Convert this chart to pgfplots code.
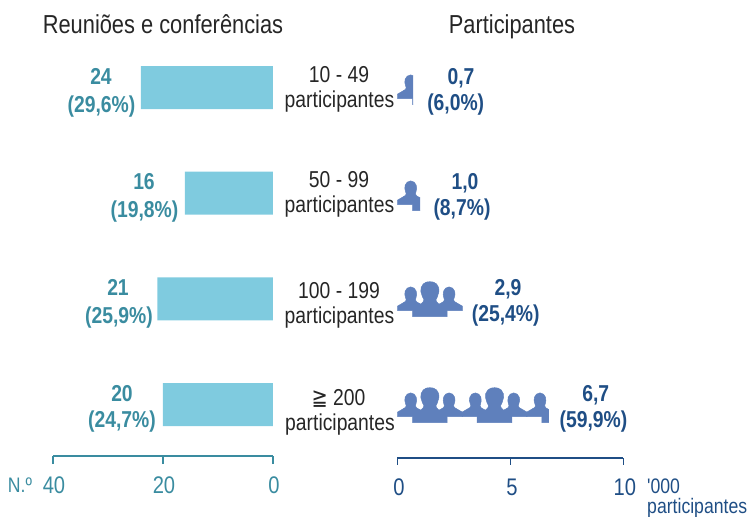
\documentclass[border=0pt]{standalone}
\usepackage{pgfplots}
\usepackage{pgfplotstable}
\usepackage{fontspec}
\pgfplotsset{compat=1.18}
\setmainfont[FakeStretch=0.84]{Liberation Sans}
\newfontfamily\symfont[FakeStretch=0.84]{DejaVu Sans}
\newfontfamily\plainfont[FakeStretch=0.84]{Liberation Sans}
\definecolor{barc}{HTML}{7FCBDF}
\definecolor{teal}{HTML}{3A8CA0}
\definecolor{navy}{HTML}{1F4E85}
\definecolor{icon}{HTML}{5F80BC}
\definecolor{ink}{HTML}{262626}
\pgfplotstableread{
x y
15.2 0
15.2 6
0 6
0 10.5
4.3 13
8 15.2
8.8 16.8
8.2 19
7.4 22
7.8 25.5
9.8 28.5
13.3 29.8
16.8 28.5
18.8 25.5
19.2 22
18.6 19
18 16.8
19 15
21.5 13.5
23.5 12.5
24.5 13.5
26 15.2
26.5 17
25 20
23.5 25
23.7 29
25.8 32.7
29 34.6
32.5 35
36 34.6
39.2 32.7
41.3 29
41.5 25
40 20
38.5 17
39 15.2
40.5 13.5
41.5 12.5
43.5 13.5
46 15
47 16.8
46.4 19
45.8 22
46.2 25.5
48.2 28.5
51.7 29.8
55.2 28.5
57.2 25.5
57.6 22
56.8 19
56.2 16.8
57 15.2
60.7 13
65 10.5
65 6
49.8 6
49.8 0
}\icontable
\newcommand{\iconplot}[1]{\addplot[fill=icon,draw=icon,line width=0.5pt] table[x expr=\thisrow{x}/22.6+#1,y=y] {\icontable} -- cycle;}
\pgfplotsset{rowaxis/.style={scale only axis,hide axis,clip=true,anchor=south west,
  xmin=0,ymin=0,ymax=36,height=36pt}}
\newcommand{\T}[5]{\node[anchor=base,inner sep=0pt,text=#4,font=\fontsize{#3}{#3}\selectfont] at (#1pt,{517pt-#2pt}) {#5};}
\newcommand{\V}[5]{\node[anchor=base,inner sep=0pt,text=#4,font=\fontsize{#3}{#3}\selectfont\bfseries] at (#1pt,{517pt-#2pt}) {#5};}
\begin{document}
\begin{tikzpicture}[x=1pt,y=1pt]
\useasboundingbox (0pt,0pt) rectangle (748pt,517pt);
% left axis
\begin{axis}[at={(53pt,61pt)},anchor=south west,scale only axis,width=220pt,height=421.3pt,
  x dir=reverse,xmin=0,xmax=40,ymin=-0.487,ymax=3.5,
  axis y line=none,axis x line=bottom,x axis line style={-,teal,line width=1.5pt},
  xtick={0,20,40},ytick=\empty,
  tick style={teal,line width=1.5pt},tick align=outside,major tick length=8pt,
  xticklabel style={text=teal,font=\fontsize{24}{24}\selectfont,yshift=-9pt,xshift=1pt},
  /pgf/number format/assume math mode=true,
  clip=false]
\addplot[xbar,bar width=43pt,bar shift=0pt,fill=barc,draw=none] coordinates {(24,3) (16,2) (21,1) (20,0)};
\end{axis}
% right axis
\begin{axis}[at={(397.4pt,59pt)},anchor=south west,scale only axis,width=226pt,height=20pt,
  xmin=0,xmax=10,ymin=0,ymax=1,
  axis y line=none,axis x line=bottom,x axis line style={-,navy,line width=1.5pt},
  xtick={0,5,10},ytick=\empty,
  tick style={navy,line width=1.5pt},tick align=outside,major tick length=7pt,
  xticklabel style={text=navy,font=\fontsize{24}{24}\selectfont,yshift=-10.5pt,xshift=1.5pt},
  /pgf/number format/assume math mode=true,
  clip=false]
\addplot[draw=none,fill=none,forget plot] coordinates {(0.7,0) (1.0,0) (2.9,0) (6.7,0)};
\end{axis}
% pictograms: each axis runs from 0 to the row's value and clips the icons there
\begin{axis}[rowaxis,at={(397.4pt,{517pt-104.7pt})},width=15.82pt,xmax=0.7]
\iconplot{0}
\end{axis}
\begin{axis}[rowaxis,at={(397.4pt,{517pt-210.7pt})},width=22.6pt,xmax=1.0]
\iconplot{0}
\end{axis}
\begin{axis}[rowaxis,at={(397.4pt,{517pt-316.7pt})},width=65.54pt,xmax=2.9]
\iconplot{0}
\end{axis}
\begin{axis}[rowaxis,at={(397.4pt,{517pt-422.7pt})},width=151.42pt,xmax=6.7]
\iconplot{0}
\iconplot{2.86}
\iconplot{5.72}
\end{axis}
% titles
\T{163}{34}{26}{ink}{Reuniões e conferências}
\T{512}{34}{26}{ink}{Participantes}
% left values
\V{101}{85}{23}{teal}{24}
\V{101.5}{113}{23}{teal}{(29,6\%)}
\V{144}{190}{23}{teal}{16}
\V{144.5}{218}{23}{teal}{(19,8\%)}
\V{118}{296}{23}{teal}{21}
\V{119}{324}{23}{teal}{(25,9\%)}
\V{122}{402}{23}{teal}{20}
\V{122}{428}{23}{teal}{(24,7\%)}
% right values
\V{461}{85}{23}{navy}{0,7}
\V{455.7}{111}{23}{navy}{(6,0\%)}
\V{465}{190}{23}{navy}{1,0}
\V{462}{216}{23}{navy}{(8,7\%)}
\V{508}{296}{23}{navy}{2,9}
\V{505.7}{322}{23}{navy}{(25,4\%)}
\V{595.7}{402}{23}{navy}{6,7}
\V{593.5}{428}{23}{navy}{(59,9\%)}
% categories
\T{339}{83}{23}{ink}{10 - 49}
\T{339.5}{108}{23}{ink}{participantes}
\T{339}{188}{23}{ink}{50 - 99}
\T{339.5}{213}{23}{ink}{participantes}
\T{339}{299}{23}{ink}{100 - 199}
\T{339.5}{324}{23}{ink}{participantes}
\T{338.5}{406}{23}{ink}{{\symfont ≧} 200}
\T{340}{431}{23}{ink}{participantes}
% units
\T{20}{493}{21}{teal}{N.º}
\node[anchor=base west,inner sep=0pt,text=navy,font=\fontsize{21}{21}\selectfont\plainfont] at (647pt,{517pt-494pt}) {'000};
\node[anchor=base west,inner sep=0pt,text=navy,font=\fontsize{21}{21}\selectfont] at (647pt,{517pt-514pt}) {participantes};
\end{tikzpicture}
\end{document}
